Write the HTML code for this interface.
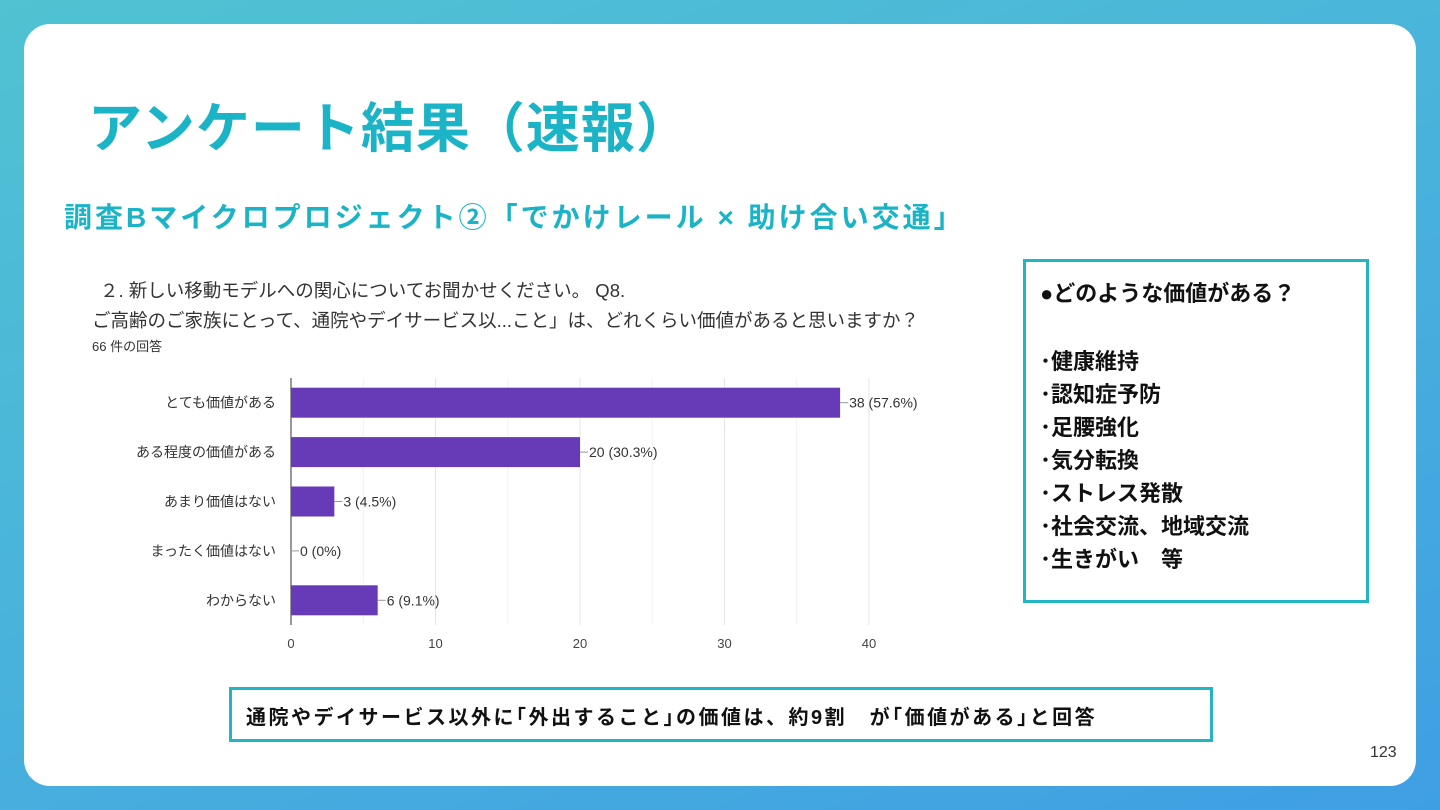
<!DOCTYPE html>
<html><head><meta charset="utf-8">
<style>
html,body{margin:0;padding:0;}
body{width:1440px;height:810px;overflow:hidden;position:relative;
background:linear-gradient(160deg,#4fc3d2 0%,#49b2dc 50%,#3f9fe3 100%);
font-family:"Liberation Sans","Noto Sans CJK JP",sans-serif;}
#card{position:absolute;left:24px;top:24px;width:1392px;height:762px;background:#fff;border-radius:26px;}
.abs{position:absolute;white-space:nowrap;}
#title{left:88px;top:84px;font-size:54px;font-weight:bold;color:#1bb3c6;letter-spacing:1px;}
#sub{left:64px;top:196px;font-size:28px;font-weight:bold;color:#1bb3c6;letter-spacing:3px;}
.q{color:#333;font-size:18.5px;}
#box{left:1023px;top:259px;width:340px;height:338px;border:3px solid #22b5c5;}
#box div{font-weight:bold;font-size:22px;color:#111;position:absolute;left:14px;}
#sum{left:229px;top:687px;width:978px;height:49px;border:3px solid #22b5c5;}
#sum span{position:absolute;left:14px;top:11px;font-size:20px;font-weight:bold;color:#111;letter-spacing:2.5px;}
#pg{left:1370px;top:744px;font-size:16px;color:#333;}
</style></head><body>
<div id="card"></div>
<div class="abs" id="title">アンケート結果（速報）</div>
<div class="abs" id="sub">調査Bマイクロプロジェクト②「でかけレール × 助け合い交通」</div>
<div class="abs q" style="left:100px;top:277px;">２. 新しい移動モデルへの関心についてお聞かせください。 Q8.</div>
<div class="abs q" style="left:92px;top:307px;">ご高齢のご家族にとって、通院やデイサービス以...こと」は、どれくらい価値があると思いますか？</div>
<div class="abs" style="left:92px;top:336px;font-size:13px;color:#333;">66 件の回答</div>
<svg id="chart" class="abs" style="left:0;top:0" width="1440" height="810"></svg>
<div class="abs" id="box">
<div style="top:14px">●どのような価値がある？</div>
<div style="top:82px">･健康維持</div>
<div style="top:115px">･認知症予防</div>
<div style="top:148px">･足腰強化</div>
<div style="top:181px">･気分転換</div>
<div style="top:214px">･ストレス発散</div>
<div style="top:247px">･社会交流、地域交流</div>
<div style="top:280px">･生きがい　等</div>
</div>
<div class="abs" id="sum"><span>通院やデイサービス以外に｢外出すること｣の価値は、約9割　が｢価値がある｣と回答</span></div>
<div class="abs" id="pg">123</div>
<script>
const categories=["とても価値がある","ある程度の価値がある","あまり価値はない","まったく価値はない","わからない"];
const counts=[38,20,3,0,6];
const valueLabels=["38 (57.6%)","20 (30.3%)","3 (4.5%)","0 (0%)","6 (9.1%)"];
const xTicks=[0,10,20,30,40];
const svg=document.getElementById('chart');
const NS='http://www.w3.org/2000/svg';
const X0=291,X1=869,PT=378,PB=625,XMAX=40;
const xs=v=>X0+(v/XMAX)*(X1-X0);
const rowH=(PB-PT)/categories.length;
const ys=i=>PT+rowH*(i+0.5);
function mk(t,a){const e=document.createElementNS(NS,t);for(const k in a)e.setAttribute(k,a[k]);svg.appendChild(e);return e;}
for(let v=0;v<=XMAX;v+=5){
  const g=mk('line',{x1:xs(v),x2:xs(v),y1:PT,y2:PB,stroke:v%10?'#f2f2f2':'#e4e4e4','stroke-width':1});
  
  
}
const ax=mk('line',{x1:X0,x2:X0,y1:PT,y2:PB,stroke:'#333','stroke-width':1});


xTicks.forEach(v=>{
  const t=mk('text',{x:xs(v),y:648,'text-anchor':'middle','font-size':13,fill:'#444'});
  t.textContent=v;
  
  
});
categories.forEach((c,i)=>{
  const y=ys(i);
  const l=mk('text',{x:276,y:y+5,'text-anchor':'end','font-size':14,fill:'#333'});
  l.textContent=c;
  
  
  const w=xs(counts[i])-X0;
  if(w>0){
    const b=mk('rect',{x:X0,y:y-15,width:w,height:30,fill:'#673ab7'});
    
    
  }
  const ex=xs(counts[i]);
  const ln=mk('line',{x1:ex,x2:ex+8,y1:y,y2:y,stroke:'#999','stroke-width':1});
  
  
  const vt=mk('text',{x:ex+9,y:y+5,'font-size':14,fill:'#333'});
  vt.textContent=valueLabels[i];
  
  
});
</script>
</body></html>
